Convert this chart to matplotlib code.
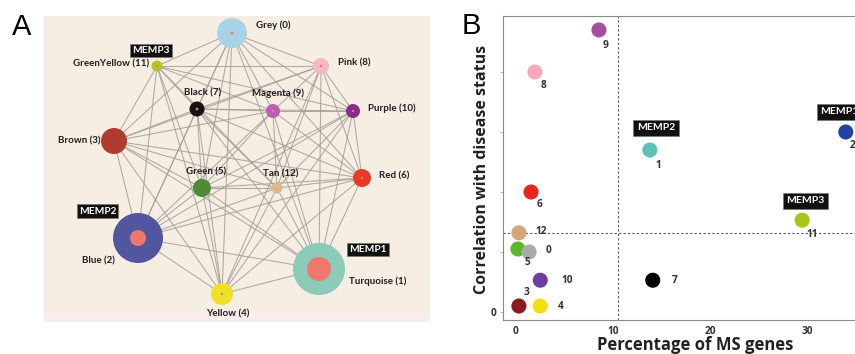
import matplotlib.pyplot as plt
from matplotlib.patches import Circle, Rectangle

plt.rcParams['font.family'] = ['Lato', 'DejaVu Sans']
fontB = ['Open Sans', 'DejaVu Sans']

# ---- panel A: module network ----
mod_names = ['Grey (0)', 'Turquoise (1)', 'Blue (2)', 'Brown (3)', 'Yellow (4)',
             'Green (5)', 'Red (6)', 'Black (7)', 'Pink (8)', 'Magenta (9)',
             'Purple (10)', 'GreenYellow (11)', 'Tan (12)']
mod_colors = ['#a8d2e6', '#8ccab9', '#52559f', '#b03b30', '#f0e126',
              '#4b8d35', '#e83a27', '#141414', '#f5b9c5', '#b95eb2',
              '#8b2b8c', '#b5c526', '#dcb78b']
node_x = [232, 319, 138, 114, 222, 202, 362, 197, 321, 273, 353, 157, 277]
node_y = [33, 269, 238, 141, 294, 188, 178, 109, 66, 111, 111, 66, 188]
node_r = [15, 26, 25, 13, 11, 9, 9, 7.5, 8, 7, 7, 5.5, 5.5]
core_r = [1.4, 12, 8, 0, 1.2, 0, 1.2, 1.4, 1.2, 1.4, 1.2, 1.2, 0]

# neighbours of each module (upper triangle of the adjacency)
neighbours = [
    [1, 2, 3, 4, 5, 6, 7, 8, 9, 10, 11],
    [2, 3, 4, 5, 6, 7, 8, 9, 10, 12],
    [3, 4, 5, 6, 7, 9, 10, 11, 12],
    [4, 5, 6, 7, 8, 9, 11, 12],
    [5, 6, 7, 8, 10, 11, 12],
    [6, 7, 9, 10, 11, 12],
    [7, 8, 9, 10, 12],
    [8, 9, 10, 11, 12],
    [9, 10, 11, 12],
    [10, 11, 12],
    [11, 12],
    [12],
]

# label placement
label_x = [256, 349, 98, 100, 228, 206, 379, 203, 338, 278, 368, 149, 281]
label_y = [25, 281, 261, 141, 314, 172, 176, 93, 63, 93, 108, 64, 174]
label_ha = ['left', 'left', 'center', 'right', 'center', 'center', 'left',
            'center', 'left', 'center', 'left', 'right', 'center']

memp_net = ['MEMP1', 'MEMP2', 'MEMP3']
memp_net_x = [368, 97.5, 151]
memp_net_y = [249.5, 211, 50.5]

# ---- panel B: scatter ----
pts_id = ['9', '8', '1', '2', '6', '12', '5', '0', '10', '7', '3', '4', '11']
pts_x = [8.55, 1.95, 13.8, 34.0, 1.55, 0.3, 0.2, 1.35, 2.5, 14.1, 0.3, 2.5, 29.5]
pts_y = [4.70, 4.00, 2.70, 3.00, 2.00, 1.32, 1.05, 1.00, 0.53, 0.53, 0.10, 0.10, 1.53]
pts_col = ['#a84ea0', '#f5abbd', '#5cc3b5', '#2443a0', '#e8241f', '#d3a77a',
           '#5cb82b', '#ababab', '#6a40a0', '#000000', '#8c1b1d', '#f0e012', '#a7c615']
# label offsets in points
lab_dx = [3, 4, 4, 3, 4, 12, 5, 12, 15, 14, 3, 13, 3]
lab_dy = [-11, -10, -11, -10, -9, 1, -10, 1, 0, 0, 10, 0, -10]
memp_ids = ['1', '11', '2']
memp_txt = ['MEMP2', 'MEMP3', 'MEMP1']
memp_dx = [4.5, 2.5, -4.5]
memp_dy = [16, 14, 14.5]
ms_cut = 10.5
cor_cut = 1.32

W, H = 855, 354
fig = plt.figure(figsize=(W / 100, H / 100), dpi=100)

# panel A axes mapped 1:1 to pixels
axA = fig.add_axes([44 / W, 1 - 322 / H, (430 - 44) / W, (322 - 16) / H])
axA.set_xlim(44, 430)
axA.set_ylim(322, 16)
axA.set_facecolor('#f6ede3')
for s in axA.spines.values():
    s.set_visible(False)
axA.set_xticks([])
axA.set_yticks([])
axA.add_patch(Rectangle((44, 312), 386, 10, color='#f9ecea', lw=0, zorder=0))

for i, nb in enumerate(neighbours):
    for j in nb:
        axA.plot([node_x[i], node_x[j]], [node_y[i], node_y[j]],
                 color='#a39c96', lw=0.75, alpha=0.85, zorder=1)

for i in range(len(mod_names)):
    axA.add_patch(Circle((node_x[i], node_y[i]), node_r[i],
                         color=mod_colors[i], zorder=3, lw=0))
    if core_r[i] > 0:
        axA.add_patch(Circle((node_x[i], node_y[i]), core_r[i],
                             color='#ef786c', zorder=4, lw=0))
    axA.text(label_x[i], label_y[i], mod_names[i], ha=label_ha[i],
             va='center', fontsize=7, fontweight='bold', color='#1e1e1e',
             zorder=5)

for name, x, y in zip(memp_net, memp_net_x, memp_net_y):
    axA.text(x, y, name, ha='center', va='center', fontsize=7.3,
             fontweight='bold', color='white', zorder=6,
             bbox=dict(boxstyle='square,pad=0.2', fc='#111111', ec='#777777',
                       lw=0.5))

fig.text(22 / W, 1 - 27 / H, 'A', fontsize=21, ha='center', va='center',
         family='Liberation Sans')
fig.text(471 / W, 1 - 26 / H, 'B', fontsize=21, ha='center', va='center',
         family='Liberation Sans')

# panel B axes (right part runs past the figure edge)
x_lo, x_hi = -1.34, 36.0
px_per_x = 9.7
y_lo, y_hi = -0.133, 4.933
left_px, top_px, bot_px = 503, 16, 320
axB = fig.add_axes([left_px / W, 1 - bot_px / H,
                    (x_hi - x_lo) * px_per_x / W, (bot_px - top_px) / H])
axB.set_xlim(x_lo, x_hi)
axB.set_ylim(y_lo, y_hi)
for s in axB.spines.values():
    s.set_color('#8a8a8a')
    s.set_linewidth(0.8)

axB.axvline(ms_cut, color='#555555', lw=0.8, ls=(0, (2, 2)), zorder=1)
axB.axhline(cor_cut, color='#555555', lw=0.8, ls=(0, (2, 2)), zorder=1)

axB.scatter(pts_x, pts_y, s=118, c=pts_col, linewidths=0, zorder=3)
for k, lab in enumerate(pts_id):
    axB.annotate(lab, (pts_x[k], pts_y[k]), xytext=(lab_dx[k], lab_dy[k]),
                 textcoords='offset points', ha='left', va='center',
                 fontsize=7.3, fontweight='bold', color='#333333', zorder=4,
                 family=fontB)

for pid, txt, dx, dy in zip(memp_ids, memp_txt, memp_dx, memp_dy):
    k = pts_id.index(pid)
    axB.annotate(txt, (pts_x[k], pts_y[k]), xytext=(dx, dy),
                 textcoords='offset points', ha='center', va='center',
                 fontsize=7.5, fontweight='bold', color='white', zorder=5,
                 bbox=dict(boxstyle='square,pad=0.35', fc='#111111',
                           ec='#777777', lw=0.5))

axB.set_xticks([0, 10, 20, 30])
axB.set_xticklabels(['0', '10', '20', '30'])
axB.set_yticks([0, 1, 2, 3, 4])
axB.set_yticklabels(['0', '', '', '', ''])
axB.tick_params(axis='x', length=0, pad=4, labelsize=7.3, colors='#8a8a8a',
                labelcolor='#333333')
axB.tick_params(axis='y', length=2.5, width=0.6, pad=2, labelsize=7.3,
                colors='#aaaaaa', labelcolor='#333333')
for t in axB.get_xticklabels() + axB.get_yticklabels():
    t.set_fontweight('bold')
    t.set_family(fontB)

fig.text(695 / W, 1 - 345.5 / H, 'Percentage of MS genes', ha='center',
         va='center', fontsize=12, fontweight='bold', color='#222222',
         family=fontB)
fig.text(482 / W, 1 - 169 / H, 'Correlation with disease status',
         ha='center', va='center', rotation=90, fontsize=11.5,
         fontweight='bold', color='#222222', family=fontB)

fig.savefig('out.png', dpi=100)
